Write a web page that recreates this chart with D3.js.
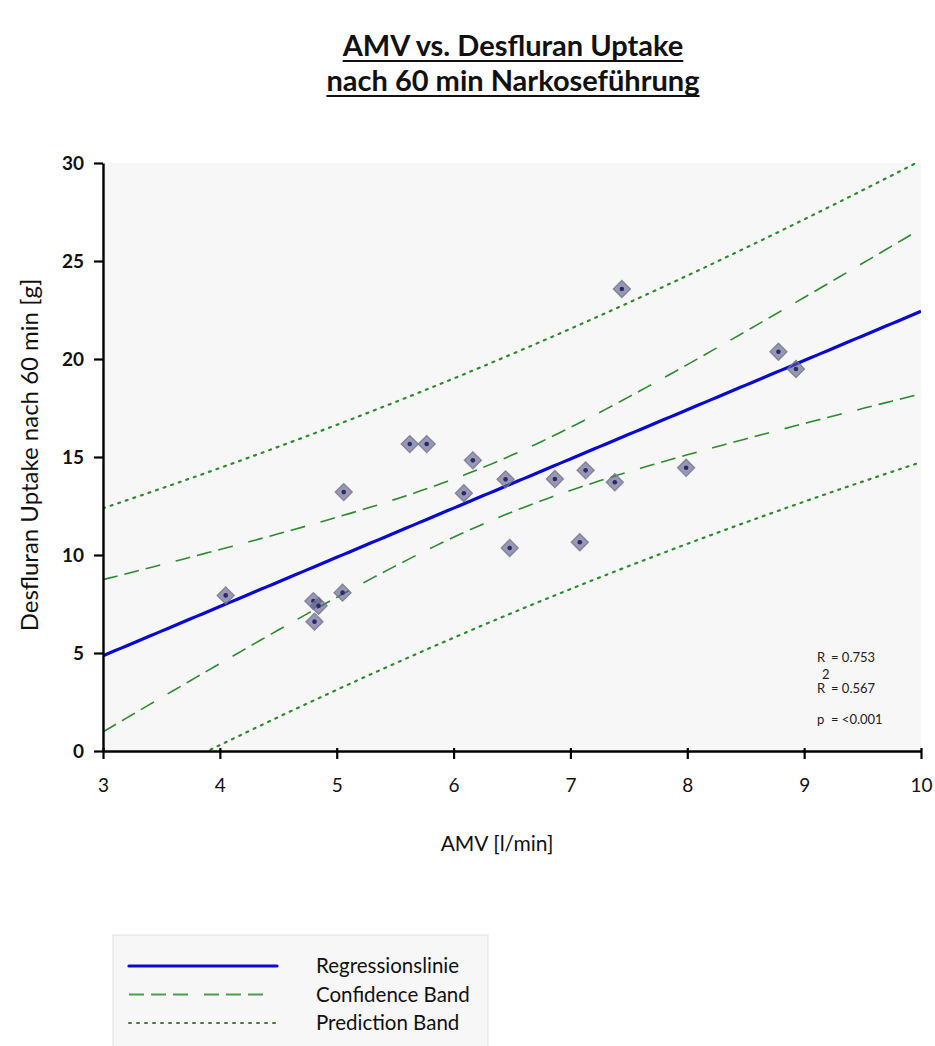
<!DOCTYPE html>
<html>
<head>
<meta charset="utf-8">
<script src="https://cdn.jsdelivr.net/npm/d3@7/dist/d3.min.js"></script>
<style>
  html, body { margin: 0; padding: 0; background: #fff; }
  svg { display: block; font-family: Lato, "Open Sans", sans-serif; }
</style>
</head>
<body>
<svg id="chart" width="935" height="1046"></svg>
<script>
// Measured pairs: minute ventilation (AMV) vs. desflurane uptake after 60 min
const amv = [4.05, 4.80, 4.845, 4.81, 5.05, 5.06, 5.625, 5.77, 6.165, 6.088,
             6.445, 6.48, 6.867, 7.13, 7.08, 7.38, 7.44, 7.99, 8.78, 8.93];
const uptake = [7.94, 7.65, 7.41, 6.60, 8.08, 13.21, 15.66, 15.66, 14.83, 13.15,
                13.86, 10.36, 13.88, 14.32, 10.65, 13.71, 23.57, 14.45, 20.37, 19.49];

const xTicks = [3, 4, 5, 6, 7, 8, 9, 10];
const yTicks = [0, 5, 10, 15, 20, 25, 30];
const titleLines = ["AMV vs. Desfluran Uptake", "nach 60 min Narkoseführung"];
const statLabels = ["R", "R", "p"];
const statValues = ["= 0.753", "= 0.567", "= <0.001"];
const legendLabels = ["Regressionslinie", "Confidence Band", "Prediction Band"];

// Two-sided 95 % Student t quantile for n - 2 = 18 degrees of freedom
const tCrit = 2.101;

const svg = d3.select("#chart");
const x = d3.scaleLinear().domain([3, 10]).range([103, 921]);
const y = d3.scaleLinear().domain([0, 30]).range([751, 163]);

// ---- least-squares fit and 95 % bands ----
const n = amv.length;
const mx = d3.mean(amv), my = d3.mean(uptake);
const sxx = d3.sum(amv, v => (v - mx) ** 2);
const sxy = d3.sum(amv, (v, i) => (v - mx) * (uptake[i] - my));
const slope = sxy / sxx;
const icpt = my - slope * mx;
const sse = d3.sum(amv, (v, i) => (uptake[i] - (icpt + slope * v)) ** 2);
const s = Math.sqrt(sse / (n - 2));
const fit = v => icpt + slope * v;
const confHalf = v => tCrit * s * Math.sqrt(1 / n + (v - mx) ** 2 / sxx);
const predHalf = v => tCrit * s * Math.sqrt(1 + 1 / n + (v - mx) ** 2 / sxx);
const xs = d3.range(0, 141).map(i => 3 + i * 0.05);

// ---- title ----
const title = svg.append("g");
titleLines.forEach((t, i) => {
  const ty = 56 + i * 35;
  const txt = title.append("text")
    .attr("x", 513).attr("y", ty)
    .attr("text-anchor", "middle")
    .attr("font-weight", 700).attr("font-size", 29)
    .attr("fill", "#111")
    .text(t);
  const w = txt.node().getComputedTextLength();
  title.append("line")
    .attr("x1", 513 - w / 2).attr("x2", 513 + w / 2)
    .attr("y1", ty + 5).attr("y2", ty + 5)
    .attr("stroke", "#111").attr("stroke-width", 2);
});

// ---- plot area ----
svg.append("rect")
  .attr("x", x(3)).attr("y", y(30))
  .attr("width", x(10) - x(3)).attr("height", y(0) - y(30))
  .attr("fill", "#f7f7f7");

svg.append("clipPath").attr("id", "plotClip")
  .append("rect")
  .attr("x", x(3)).attr("y", y(30))
  .attr("width", x(10) - x(3)).attr("height", y(0) - y(30));

const plot = svg.append("g").attr("clip-path", "url(#plotClip)");
const line = fn => d3.line().x(v => x(v)).y(v => y(fn(v)))(xs);

const green = "#2e8b2e";
const dashPat = "15,7,15,7,15,16";
const dotPat = "2,6";

plot.append("path").attr("d", line(v => fit(v) + predHalf(v)))
  .attr("fill", "none").attr("stroke", green).attr("stroke-width", 2.2)
  .attr("stroke-dasharray", dotPat).attr("stroke-linecap", "round");
plot.append("path").attr("d", line(v => fit(v) - predHalf(v)))
  .attr("fill", "none").attr("stroke", green).attr("stroke-width", 2.2)
  .attr("stroke-dasharray", dotPat).attr("stroke-linecap", "round");
plot.append("path").attr("d", line(v => fit(v) + confHalf(v)))
  .attr("fill", "none").attr("stroke", green).attr("stroke-width", 1.6)
  .attr("stroke-dasharray", dashPat);
plot.append("path").attr("d", line(v => fit(v) - confHalf(v)))
  .attr("fill", "none").attr("stroke", green).attr("stroke-width", 1.6)
  .attr("stroke-dasharray", dashPat);
plot.append("path").attr("d", line(fit))
  .attr("fill", "none").attr("stroke", "#0a0ad0").attr("stroke-width", 3.2);

// data points as diamonds with a dark centre dot
const pts = plot.append("g").selectAll("g")
  .data(amv.map((v, i) => [v, uptake[i]]))
  .join("g")
  .attr("transform", d => `translate(${x(d[0])},${y(d[1])})`);
pts.append("path")
  .attr("d", d3.symbol(d3.symbolSquare, 145)())
  .attr("transform", "rotate(45)")
  .attr("fill", "rgba(88,88,135,0.6)")
  .attr("stroke", "rgba(120,120,145,0.85)").attr("stroke-width", 1.3);
pts.append("circle").attr("r", 2.3).attr("fill", "#2a2a6a");

// ---- axes ----
const xAxis = svg.append("g")
  .attr("transform", `translate(0,${y(0)})`)
  .call(d3.axisBottom(x).tickValues(xTicks).tickFormat(d3.format("d"))
    .tickSize(8).tickSizeOuter(0).tickPadding(20));
const yAxis = svg.append("g")
  .attr("transform", `translate(${x(3)},0)`)
  .call(d3.axisLeft(y).tickValues(yTicks).tickSize(9).tickSizeOuter(0).tickPadding(10));

[xAxis, yAxis].forEach(a => {
  a.select(".domain").attr("stroke", "#000").attr("stroke-width", 2.4);
  a.selectAll(".tick line").attr("stroke", "#000").attr("stroke-width", 2.2);
});
// x ticks poke slightly above the axis line as well
xAxis.selectAll(".tick line").attr("y1", -3);
xAxis.selectAll(".tick text")
  .attr("font-family", "Lato, sans-serif").attr("font-size", 19)
  .attr("fill", "#111");
yAxis.selectAll(".tick text")
  .attr("font-family", "Lato, sans-serif").attr("font-size", 19)
  .attr("font-weight", 700).attr("fill", "#111");

// axis titles
svg.append("text")
  .attr("x", 497).attr("y", 851)
  .attr("text-anchor", "middle")
  .attr("font-size", 21).attr("fill", "#111")
  .text("AMV [l/min]");
svg.append("text")
  .attr("transform", `translate(38,455) rotate(-90)`)
  .attr("text-anchor", "middle")
  .attr("font-size", 24).attr("fill", "#111")
  .text("Desfluran Uptake nach 60 min [g]");

// ---- statistics ----
const stats = svg.append("g").attr("font-size", 13).attr("fill", "#222");
statLabels.forEach((lab, i) => {
  const sy = 662 + i * 31;
  stats.append("text").attr("x", 817).attr("y", sy).text(lab);
  stats.append("text").attr("x", 831).attr("y", sy).text(statValues[i]);
});
stats.append("text").attr("x", 822).attr("y", 679).attr("font-size", 13).text("2");

// ---- legend ----
const leg = svg.append("g");
leg.append("rect")
  .attr("x", 113).attr("y", 935).attr("width", 375).attr("height", 120)
  .attr("fill", "#f7f7f7").attr("stroke", "#e0e0e0").attr("stroke-width", 1);
const legStyles = [
  { stroke: "#0a0ad0", width: 3.2, dash: null, cap: "round" },
  { stroke: "#4aa04a", width: 1.8, dash: "15,7,15,7,15,16", cap: "butt" },
  { stroke: green, width: 2, dash: dotPat, cap: "round" }
];
legendLabels.forEach((lab, i) => {
  const ly = 966 + i * 28.5;
  const st = legStyles[i];
  leg.append("line")
    .attr("x1", 129).attr("x2", 277).attr("y1", ly).attr("y2", ly)
    .attr("stroke", st.stroke).attr("stroke-width", st.width)
    .attr("stroke-linecap", st.cap)
    .attr("stroke-dasharray", st.dash);
  leg.append("text")
    .attr("x", 316).attr("y", ly + 7)
    .attr("font-size", 20.5).attr("fill", "#111")
    .text(lab);
});
</script>
</body>
</html>
